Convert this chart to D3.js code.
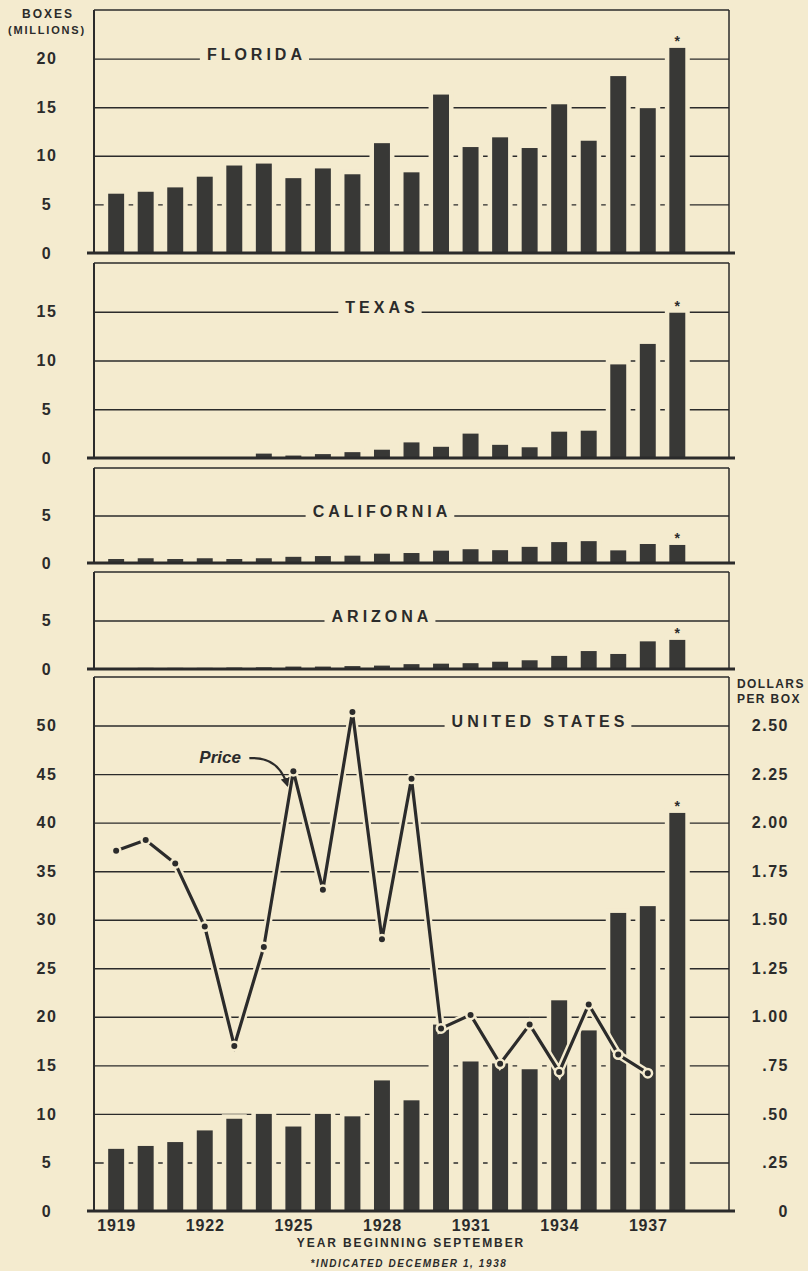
<!DOCTYPE html>
<html>
<head>
<meta charset="utf-8">
<script src="https://cdn.jsdelivr.net/npm/d3@7"></script>
<style>
  html, body { margin: 0; padding: 0; background: #f4ebcf; }
  svg { display: block; }
  text { font-family: "Liberation Sans", Arial, sans-serif; fill: #2b2b2b; }
</style>
</head>
<body>
<div id="chart"></div>
<script>
// crop years (year beginning September)
var years = [1919, 1920, 1921, 1922, 1923, 1924, 1925, 1926, 1927, 1928,
             1929, 1930, 1931, 1932, 1933, 1934, 1935, 1936, 1937, 1938];

// production, million boxes
var floridaBoxes = [6.1, 6.3, 6.75, 7.85, 9.0, 9.2, 7.7, 8.7, 8.1, 11.3,
                    8.3, 16.3, 10.9, 11.9, 10.8, 15.3, 11.55, 18.2, 14.9, 21.1];
var texasBoxes = [0.05, 0.05, 0.05, 0.05, 0.1, 0.45, 0.25, 0.4, 0.6, 0.85,
                  1.6, 1.15, 2.5, 1.35, 1.1, 2.7, 2.8, 9.6, 11.7, 14.9];
var californiaBoxes = [0.42, 0.5, 0.42, 0.5, 0.42, 0.5, 0.65, 0.73, 0.77, 0.98,
                       1.05, 1.3, 1.45, 1.35, 1.7, 2.2, 2.3, 1.33, 2.0, 1.9];
var arizonaBoxes = [0.1, 0.12, 0.12, 0.12, 0.15, 0.17, 0.25, 0.25, 0.3, 0.35,
                    0.5, 0.55, 0.6, 0.75, 0.9, 1.35, 1.85, 1.55, 2.85, 3.0];
var usBoxes = [6.4, 6.7, 7.1, 8.3, 9.5, 10.0, 8.7, 10.0, 9.75, 13.45,
               11.4, 19.2, 15.4, 15.2, 14.6, 21.7, 18.6, 30.7, 31.4, 41.0];

// season average price, dollars per box
var priceYears = [1919, 1920, 1921, 1922, 1923, 1924, 1925, 1926, 1927, 1928,
                  1929, 1930, 1931, 1932, 1933, 1934, 1935, 1936, 1937];
var usPrice = [1.855, 1.91, 1.79, 1.465, 0.85, 1.36, 2.265, 1.655, 2.57, 1.40,
               2.226, 0.94, 1.01, 0.758, 0.96, 0.716, 1.064, 0.806, 0.71];

// tick labels
var xLabelYears = [1919, 1922, 1925, 1928, 1931, 1934, 1937];
var floridaTicks = [0, 5, 10, 15, 20];
var texasTicks = [0, 5, 10, 15];
var californiaTicks = [0, 5];
var arizonaTicks = [0, 5];
var usTicks = [0, 5, 10, 15, 20, 25, 30, 35, 40, 45, 50];
var priceTicks = [0, 0.25, 0.5, 0.75, 1.0, 1.25, 1.5, 1.75, 2.0, 2.25, 2.5];

var W = 808, H = 1271;
var bg = "#f4ebcf", ink = "#2b2b2b", barInk = "#383836";
var font = '"Liberation Sans", Arial, sans-serif';

var svg = d3.select("#chart").append("svg")
    .attr("width", W)
    .attr("height", H);

svg.append("rect").attr("width", W).attr("height", H).attr("fill", bg);

var x = d3.scaleLinear().domain([1918.25, 1939.75]).range([94, 729]);
var x0 = x.range()[0], x1 = x.range()[1];
var barW = (x(1) - x(0)) * 0.54;

var panels = [
    { name: "FLORIDA", values: floridaBoxes, max: 25, top: 10, bottom: 253, ticks: floridaTicks, titleAt: 1923.75 },
    { name: "TEXAS", values: texasBoxes, max: 20, top: 263, bottom: 458, ticks: texasTicks, titleAt: 1928 },
    { name: "CALIFORNIA", values: californiaBoxes, max: 10, top: 468, bottom: 563, ticks: californiaTicks, titleAt: 1928 },
    { name: "ARIZONA", values: arizonaBoxes, max: 10, top: 572, bottom: 669, ticks: arizonaTicks, titleAt: 1928 },
    { name: "UNITED STATES", values: usBoxes, max: 55, top: 677, bottom: 1211, ticks: usTicks, titleAt: 1933.35 }
];

var yUS;
panels.forEach(function(p) {
    var y = drawPanel(p);
    if (p.name == "UNITED STATES") yUS = y;
});

function drawPanel(p) {
    var y = d3.scaleLinear().domain([0, p.max]).range([p.bottom, p.top]);
    var g = svg.append("g").attr("class", "panel");

    // gridlines
    g.append("g")
        .attr("transform", "translate(" + x0 + ",0)")
        .call(d3.axisLeft(y).tickValues(p.ticks.filter(d => d > 0)).tickSize(-(x1 - x0)).tickFormat(""))
        .call(s => s.select(".domain").remove())
        .selectAll("line")
        .attr("stroke", ink)
        .attr("stroke-width", 1.4);

    // title sitting on the top gridline
    var lineVal = p.ticks[p.ticks.length - 1];
    var t = g.append("text")
        .attr("x", x(p.titleAt))
        .attr("y", y(lineVal) + 1.5)
        .attr("text-anchor", "middle")
        .style("font-size", "16px")
        .style("font-weight", "bold")
        .style("letter-spacing", "4px")
        .text(p.name);
    var bb = t.node().getBBox();
    g.insert("rect", () => t.node())
        .attr("x", bb.x - 7)
        .attr("y", y(lineVal) - 2.5)
        .attr("width", bb.width + 10)
        .attr("height", 5)
        .attr("fill", bg);

    // bars with a paper-coloured halo
    var rows = years.map((yr, i) => ({ year: yr, v: p.values[i] }));
    g.selectAll("rect.bar")
        .data(rows)
        .join("rect")
        .attr("class", "bar")
        .attr("x", d => x(d.year) - barW / 2)
        .attr("y", d => y(d.v))
        .attr("width", barW)
        .attr("height", d => y(0) - y(d.v))
        .attr("fill", barInk)
        .attr("stroke", bg)
        .attr("stroke-width", 9)
        .attr("paint-order", "stroke");

    // asterisk on the indicated 1938 crop
    var last = rows[rows.length - 1];
    g.append("text")
        .attr("x", x(last.year))
        .attr("y", y(last.v) - 2)
        .attr("text-anchor", "middle")
        .style("font-size", "14px")
        .style("font-weight", "bold")
        .text("*");

    // frame
    g.append("line").attr("x1", x0).attr("x2", x1).attr("y1", p.top).attr("y2", p.top)
        .attr("stroke", ink).attr("stroke-width", 1.5);
    g.append("line").attr("x1", x1).attr("x2", x1).attr("y1", p.top).attr("y2", p.bottom)
        .attr("stroke", ink).attr("stroke-width", 1.5);
    g.append("line").attr("x1", x0).attr("x2", x0).attr("y1", p.top).attr("y2", p.bottom)
        .attr("stroke", ink).attr("stroke-width", 2);
    g.append("line").attr("x1", x0 - 7).attr("x2", x1 + 6).attr("y1", p.bottom).attr("y2", p.bottom)
        .attr("stroke", ink).attr("stroke-width", 3);

    // left labels
    g.append("g")
        .attr("transform", "translate(" + x0 + ",0)")
        .call(d3.axisLeft(y).tickValues(p.ticks).tickSize(0).tickFormat(d3.format("d")))
        .call(s => s.select(".domain").remove())
        .selectAll("text")
        .attr("x", -47)
        .attr("text-anchor", "middle")
        .style("font-family", font)
        .style("font-size", "16px")
        .style("font-weight", "bold")
        .style("letter-spacing", "1.5px")
        .attr("fill", ink);

    return y;
}

// price line (right scale)
var yP = d3.scaleLinear().domain([0, 2.75]).range([yUS(0), yUS(55)]);
var pts = priceYears.map((yr, i) => ({ year: yr, p: usPrice[i] }));
var line = d3.line().x(d => x(d.year)).y(d => yP(d.p));

svg.append("path").datum(pts)
    .attr("d", line).attr("fill", "none")
    .attr("stroke", bg).attr("stroke-width", 8).attr("stroke-linejoin", "miter");
svg.append("path").datum(pts)
    .attr("d", line).attr("fill", "none")
    .attr("stroke", ink).attr("stroke-width", 3.2).attr("stroke-linejoin", "miter");
svg.selectAll("circle.price")
    .data(pts)
    .join("circle")
    .attr("class", "price")
    .attr("cx", d => x(d.year))
    .attr("cy", d => yP(d.p))
    .attr("r", 3)
    .attr("fill", ink)
    .attr("stroke", bg)
    .attr("stroke-width", 5)
    .attr("paint-order", "stroke");

// "Price" note with curved arrow to the 1925 point
var ax = x(1925), ay = yP(usPrice[6]);
svg.append("text")
    .attr("x", ax - 94)
    .attr("y", ay - 8)
    .style("font-size", "17px")
    .style("font-style", "italic")
    .style("font-weight", "bold")
    .text("Price");
svg.append("defs").append("marker")
    .attr("id", "arrow")
    .attr("viewBox", "0 0 10 10")
    .attr("refX", 8).attr("refY", 5)
    .attr("markerWidth", 9).attr("markerHeight", 9)
    .attr("markerUnits", "userSpaceOnUse")
    .attr("orient", "auto")
    .append("path").attr("d", "M0,0 L10,5 L0,10 z").attr("fill", ink);
svg.append("path")
    .attr("d", "M" + (ax - 44) + "," + (ay - 13) + " Q" + (ax - 15) + "," + (ay - 15) + " " + (ax - 6) + "," + (ay + 14))
    .attr("fill", "none")
    .attr("stroke", ink)
    .attr("stroke-width", 2.2)
    .attr("marker-end", "url(#arrow)");

// right axis (dollars per box)
var fmt = d3.format(".2f");
svg.append("g")
    .attr("transform", "translate(789,0)")
    .call(d3.axisRight(yP).tickValues(priceTicks).tickSize(0)
        .tickFormat(d => d === 0 ? "0" : d < 1 ? fmt(d).slice(1) : fmt(d)))
    .call(s => s.select(".domain").remove())
    .selectAll("text")
    .attr("x", 0)
    .attr("text-anchor", "end")
    .style("font-family", font)
    .style("font-size", "16px")
    .style("font-weight", "bold")
    .style("letter-spacing", "1.5px")
    .attr("fill", ink);

svg.append("text").attr("x", 737).attr("y", 687.5)
    .style("font-size", "12px").style("font-weight", "bold").style("letter-spacing", "1.4px")
    .text("DOLLARS");
svg.append("text").attr("x", 737).attr("y", 702.5)
    .style("font-size", "12px").style("font-weight", "bold").style("letter-spacing", "1.4px")
    .text("PER BOX");

// left unit label
svg.append("text").attr("x", 48).attr("y", 17.5).attr("text-anchor", "middle")
    .style("font-size", "12px").style("font-weight", "bold").style("letter-spacing", "2px")
    .text("BOXES");
svg.append("text").attr("x", 47).attr("y", 34).attr("text-anchor", "middle")
    .style("font-size", "11px").style("font-weight", "bold").style("letter-spacing", "1.8px")
    .text("(MILLIONS)");

// x axis labels
svg.append("g")
    .attr("transform", "translate(0," + yUS(0) + ")")
    .call(d3.axisBottom(x).tickValues(xLabelYears).tickSize(0).tickFormat(d3.format("d")))
    .call(s => s.select(".domain").remove())
    .selectAll("text")
    .attr("y", 14)
    .attr("dy", "0.35em")
    .style("font-family", font)
    .style("font-size", "16px")
    .style("font-weight", "bold")
    .style("letter-spacing", "0.8px")
    .attr("fill", ink);

svg.append("text").attr("x", 411).attr("y", 1246.5).attr("text-anchor", "middle")
    .style("font-size", "12px").style("font-weight", "bold").style("letter-spacing", "1.9px")
    .text("YEAR BEGINNING SEPTEMBER");
svg.append("text").attr("x", 409).attr("y", 1267).attr("text-anchor", "middle")
    .style("font-size", "10px").style("font-weight", "bold").style("font-style", "italic")
    .style("letter-spacing", "1.6px")
    .text("*INDICATED DECEMBER 1, 1938");
</script>
</body>
</html>
